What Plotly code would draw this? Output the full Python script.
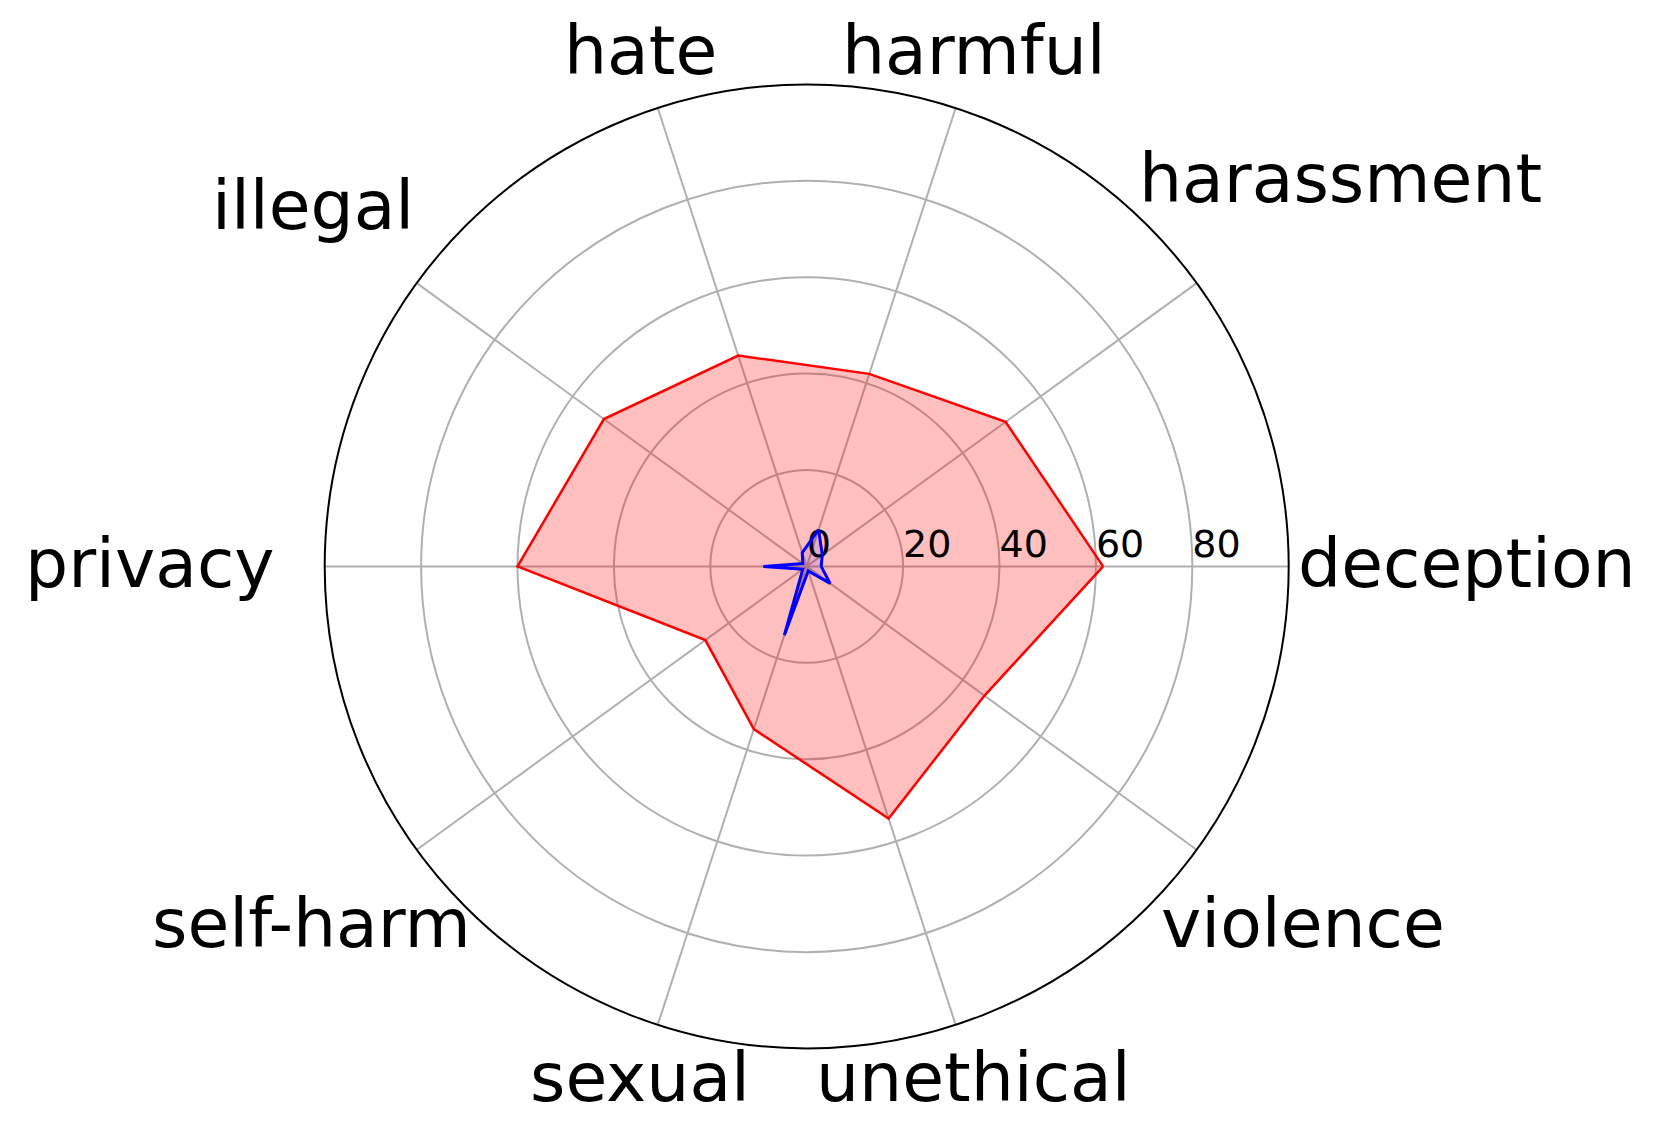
import plotly.graph_objects as go

categories = ["deception", "harassment", "harmful", "hate", "illegal",
              "privacy", "self-harm", "sexual", "unethical", "violence"]
red_values = [61.5, 51, 42, 46, 52, 60, 26, 35.5, 55, 45.6]
blue_values = [3, 4, 8, 3, 1, 9, 1, 15, 1, 6]
radial_ticks = [0, 20, 40, 60, 80]

W, H = 1660, 1134
PAGE_OFFSET = 8  # default body margin of the html page

# where each category label sits (pixel centre in the figure)
label_centers_px = [
    (1466.5, 563.5), (1340, 178.5), (974.5, 50.5), (640, 50.5), (312.5, 205.5),
    (149.5, 563.5), (311, 923.5), (640, 1077.5), (973, 1077.5), (1302.5, 923.5),
]


def closed(vals):
    return list(vals) + [vals[0]]


fig = go.Figure()

fig.add_trace(go.Scatterpolar(
    r=closed(red_values), theta=closed(categories),
    mode="lines", fill="toself",
    fillcolor="rgba(255,0,0,0.25)",
    line=dict(color="red", width=2.5),
    showlegend=False, hoverinfo="skip",
))

# radial tick labels, drawn along the 0 degree spoke
fig.add_trace(go.Scatterpolar(
    r=radial_ticks,
    theta=[categories[0]] * len(radial_ticks),
    mode="text",
    text=[str(t) for t in radial_ticks],
    textposition="top right",
    textfont=dict(size=38, color="black", family="DejaVu Sans"),
    showlegend=False, hoverinfo="skip",
))

fig.add_trace(go.Scatterpolar(
    r=closed(blue_values), theta=closed(categories),
    mode="lines", fill="toself",
    fillcolor="rgba(0,0,255,0.1)",
    line=dict(color="blue", width=3),
    showlegend=False, hoverinfo="skip",
))

for name, (px, py) in zip(categories, label_centers_px):
    fig.add_annotation(
        x=(px - PAGE_OFFSET) / W, y=1 - (py - PAGE_OFFSET) / H,
        xref="paper", yref="paper",
        text=name, showarrow=False,
        xanchor="center", yanchor="middle",
        font=dict(size=68, color="black", family="DejaVu Sans"),
    )

cx, cy, R = 806.7 - PAGE_OFFSET, 566.4 - PAGE_OFFSET, 482
fig.update_layout(
    width=W, height=H,
    margin=dict(l=0, r=0, t=0, b=0),
    paper_bgcolor="white",
    font=dict(family="DejaVu Sans", color="black"),
    polar=dict(
        domain=dict(x=[(cx - R) / W, (cx + R) / W],
                    y=[1 - (cy + R) / H, 1 - (cy - R) / H]),
        bgcolor="white",
        radialaxis=dict(
            range=[0, 100], tickvals=radial_ticks,
            showticklabels=False, ticks="",
            showline=False,
            gridcolor="#b0b0b0", gridwidth=1.6,
        ),
        angularaxis=dict(
            direction="counterclockwise", rotation=0,
            categoryorder="array", categoryarray=categories,
            showticklabels=False, ticks="",
            showline=True, linecolor="black", linewidth=2,
            gridcolor="#b0b0b0", gridwidth=1.6,
        ),
    ),
)

fig.write_html("out.html")
